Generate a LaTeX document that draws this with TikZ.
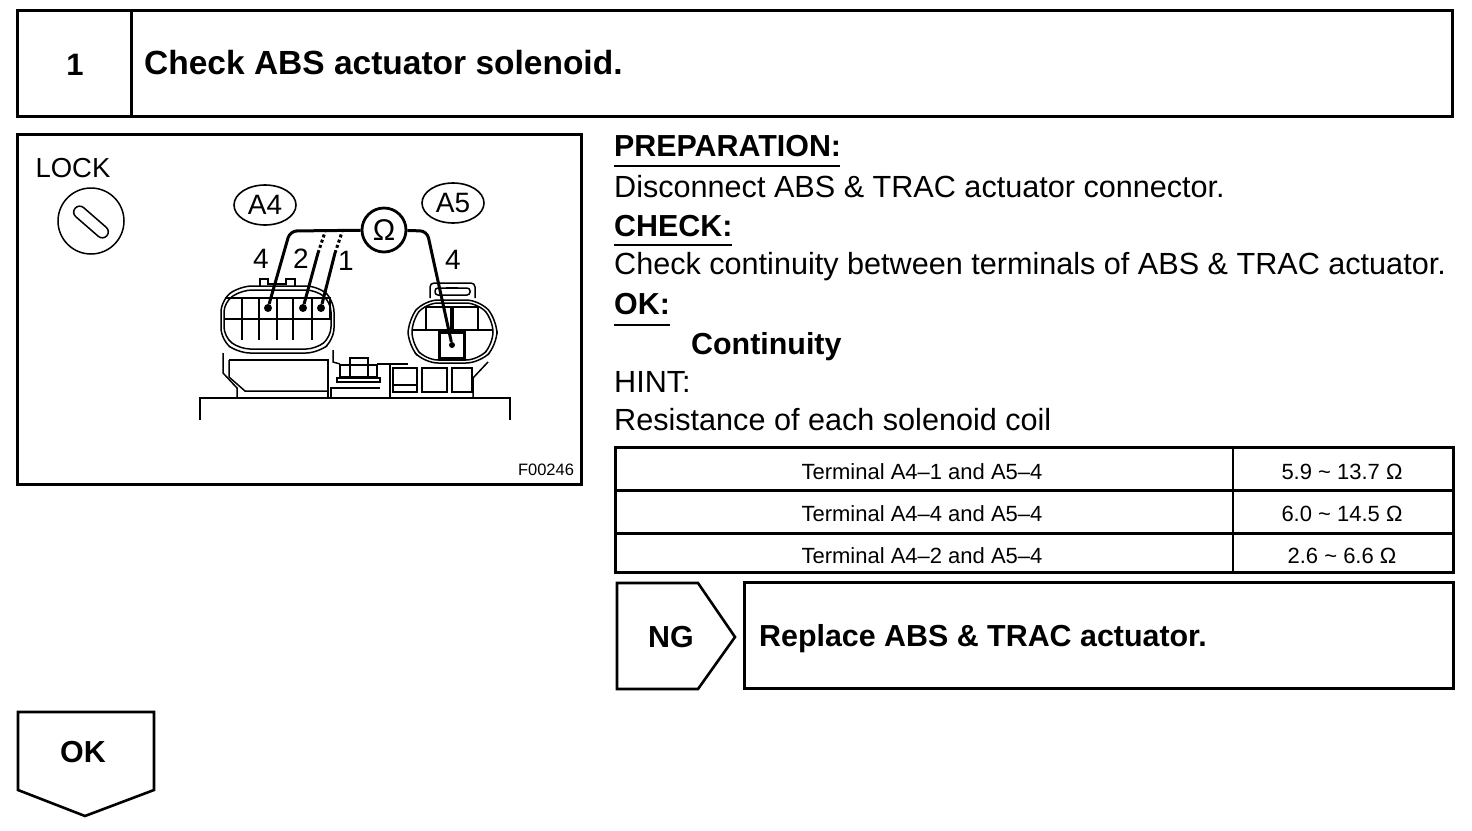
\documentclass[tikz,border=0pt]{standalone}
\usepackage{fontspec}
\setmainfont{Liberation Sans}
\tikzset{
  framebox/.style={draw,line width=3pt,anchor=north west,inner sep=0pt,outer sep=0pt},
  bodytext/.style={font=\fontsize{30.6}{31}\selectfont,anchor=base west,inner sep=0pt},
  boldtext/.style={font=\fontsize{30.4}{31}\selectfont\bfseries,anchor=base west,inner sep=0pt},
  headtext/.style={font=\fontsize{33.5}{35}\selectfont\bfseries,anchor=base west,inner sep=0pt},
  celltext/.style={font=\fontsize{22}{23}\selectfont,anchor=base,inner sep=0pt},
  pinlabel/.style={font=\fontsize{28}{29}\selectfont,inner sep=0pt},
  tagoval/.style={draw,ellipse,line width=1.6pt,minimum width=62pt,minimum height=40pt,inner sep=0pt,font=\fontsize{28}{29}\selectfont},
  termdot/.style={circle,fill,minimum size=8pt,inner sep=0pt},
  wire/.style={line width=3pt},
  thinline/.style={line width=1.5pt},
  cellline/.style={line width=2.8pt}
}
\usetikzlibrary{shapes.geometric}
\begin{document}
\begin{tikzpicture}[x=1pt,y=-1pt]
  \useasboundingbox (0,0) rectangle (1472,830);

  \node[framebox,minimum width=1435pt,minimum height=106pt] (header) at (17,10) {};
  \draw[framebox] (131,10) -- (131,116);
  \node[font=\fontsize{31}{31}\selectfont\bfseries,inner sep=0pt] (stepno) at (75,65) {1};
  \node[headtext] (title) at (144,74) {Check ABS actuator solenoid.};

  \node[framebox,minimum width=564pt,minimum height=350pt] (figbox) at (17,134) {};
  \node[font=\fontsize{27.5}{28}\selectfont,inner sep=0pt] (lock) at (73,168) {LOCK};
  \node[draw,circle,thinline,minimum size=66pt,inner sep=0pt] (keydial) at (91,221) {};
  \node[draw,thinline,rounded corners=6pt,minimum width=42pt,minimum height=12pt,rotate=-41,inner sep=0pt] (keyslot) at (91,222) {};
  \node[tagoval] (tagfour) at (265,205) {A4};
  \node[tagoval] (tagfive) at (453,203) {A5};
  \node[draw,circle,line width=2.8pt,minimum size=44pt,inner sep=0pt,font=\fontsize{30}{30}\selectfont] (omega) at (384,230) {Ω};
  \node[pinlabel] (lblfour) at (261,259) {4};
  \node[pinlabel] (lbltwo) at (301,259) {2};
  \node[pinlabel] (lblone) at (346,261) {1};
  \node[pinlabel] (lblfive) at (453,260) {4};
  \node[font=\fontsize{16.5}{17}\selectfont,inner sep=0pt] (figcode) at (546,470) {F00246};

  \draw[thinline,rounded corners=12pt] (221,300) -- (240,286) -- (318,286) -- (334,300) -- (334,340) -- (318,353) -- (238,353) -- (221,340) -- cycle;
  \draw[thinline,rounded corners=10pt] (224,302) -- (242,290) -- (316,290) -- (331,302) -- (331,337) -- (316,349) -- (240,349) -- (224,337) -- cycle;
  \draw[thinline] (260,286) -- (260,279) -- (268,279) -- (268,284) -- (286,284) -- (286,279) -- (295,279) -- (295,286);
  \draw[thinline] (225,319) -- (330,319);
  \draw[thinline] (225,298) -- (330,298);
  \foreach \xcell in {242,259,277,293,312}
    \draw[thinline] (\xcell,298) -- (\xcell,340);
  \draw[cellline] (259,298) rectangle (277,319);
  \draw[cellline] (293,298) rectangle (330,319);
  \draw[cellline] (312,298) -- (312,340);
  \draw[cellline] (293,319) -- (293,340);

  \draw[thinline] (223,353) -- (223,373) -- (237,388) -- (237,398);
  \draw[thinline] (229,360) -- (328,360) -- (328,398);
  \draw[thinline] (229,360) -- (229,377) -- (245,391) -- (328,391);
  \draw[thinline] (333,350) -- (333,362) -- (340,364);
  \draw[thinline] (350,364) -- (350,358) -- (368,358) -- (368,364);
  \draw[thinline] (340,365) rectangle (377,377);
  \draw[thinline] (350,365) -- (350,377) (368,365) -- (368,377);
  \draw[thinline] (337,378) rectangle (380,382);
  \draw[thinline] (331,398) -- (331,388) -- (380,388);
  \draw[thinline] (377,364) -- (408,364);
  \draw[thinline] (390,364) -- (390,398);
  \draw[thinline] (393,368) rectangle (417,392);
  \draw[thinline] (393,385) -- (417,385);
  \draw[thinline] (422,368) rectangle (447,392);
  \draw[thinline] (452,368) rectangle (472,392);
  \draw[thinline] (473,398) -- (473,378) -- (488,362);

  \draw[thinline,rounded corners=14pt] (408,320) -- (424,300) -- (480,300) -- (497,320) -- (497,345) -- (480,363) -- (424,363) -- (408,345) -- cycle;
  \draw[thinline,rounded corners=12pt] (412,320) -- (426,303) -- (478,303) -- (493,320) -- (493,344) -- (478,360) -- (426,360) -- (412,344) -- cycle;
  \draw[thinline,rounded corners=4pt] (430,298) -- (430,283) -- (475,283) -- (475,298);
  \draw[thinline,rounded corners=3pt] (435,295) -- (435,288) -- (470,288) -- (470,295) -- cycle;
  \draw[thinline] (446,288) -- (458,288);
  \draw[cellline] (426,329) -- (426,307) -- (451,307) -- (451,329);
  \draw[cellline] (453,329) -- (453,307) -- (478,307) -- (478,329);
  \draw[thinline] (412,330) -- (493,330);
  \draw[line width=3pt] (439,332) rectangle (464,358);

  \draw[thinline] (200,420) -- (200,398) -- (510,398) -- (510,420);

  \node[termdot] (pinfour) at (268,308) {};
  \node[termdot] (pintwo) at (303,308) {};
  \node[termdot] (pinone) at (321,308) {};
  \node[termdot,minimum size=6pt] (pinfive) at (452,345) {};
  \coordinate (bendfour) at (290,231);
  \coordinate (bendtwo) at (325,232);
  \coordinate (bendone) at (342,232);
  \coordinate (midtwo) at (318,253);
  \coordinate (midone) at (335,253);
  \coordinate (bendfive) at (427,231);
  \draw[wire,rounded corners=7pt] (omega) -- (bendfour) -- (pinfour);
  \draw[wire] (pintwo) -- (midtwo);
  \draw[wire] (pinone) -- (midone);
  \draw[wire,dash pattern=on 3pt off 2.5pt] (midtwo) -- (bendtwo);
  \draw[wire,dash pattern=on 3pt off 2.5pt] (midone) -- (bendone);
  \draw[wire,rounded corners=7pt] (omega) -- (bendfive) -- (pinfive);

  \node[boldtext] (prep) at (614,156) {PREPARATION:};
  \node[bodytext] (disconnect) at (614,197) {Disconnect ABS \& TRAC actuator connector.};
  \node[boldtext] (checkhead) at (614,236) {CHECK:};
  \node[bodytext] (checktext) at (614,274) {Check continuity between terminals of ABS \& TRAC actuator.};
  \node[boldtext] (okhead) at (614,314) {OK:};
  \node[boldtext] (contin) at (691,354) {Continuity};
  \node[bodytext] (hint) at (614,392) {HINT:};
  \node[bodytext] (resist) at (614,430) {Resistance of each solenoid coil};
  \draw[thinline] (prep.base west) ++(0,10) -- ++(226,0);
  \draw[thinline] (checkhead.base west) ++(0,9) -- ++(118,0);
  \draw[thinline] (okhead.base west) ++(0,11) -- ++(56,0);

  \node[framebox,minimum width=838pt,minimum height=125pt] (restable) at (615,447) {};
  \draw[framebox] (615,490) -- (1453,490);
  \draw[framebox] (615,533) -- (1453,533);
  \draw[framebox,line width=2.4pt] (1233,447) -- (1233,572);
  \node[celltext] (termone) at (922,479) {Terminal A4–1 and A5–4};
  \node[celltext] (termtwo) at (922,521) {Terminal A4–4 and A5–4};
  \node[celltext] (termthree) at (922,563) {Terminal A4–2 and A5–4};
  \node[celltext] (valone) at (1342,479) {5.9 \textasciitilde\ 13.7 Ω};
  \node[celltext] (valtwo) at (1342,521) {6.0 \textasciitilde\ 14.5 Ω};
  \node[celltext] (valthree) at (1342,563) {2.6 \textasciitilde\ 6.6 Ω};

  \draw[line width=2.6pt,line join=miter] (617,583) -- (698,583) -- (735,637) -- (698,689) -- (617,689) -- cycle;
  \node[font=\fontsize{30.4}{31}\selectfont\bfseries,inner sep=0pt] (nglabel) at (671,637) {NG};
  \node[framebox,minimum width=709pt,minimum height=106pt] (replacebox) at (744,582) {};
  \node[boldtext] (replace) at (759,646) {Replace ABS \& TRAC actuator.};

  \draw[line width=2.6pt,line join=miter] (18,712) -- (154,712) -- (154,790) -- (85,816) -- (18,790) -- cycle;
  \node[font=\fontsize{30.4}{31}\selectfont\bfseries,inner sep=0pt] (oklabel) at (83,752) {OK};
\end{tikzpicture}
\end{document}
